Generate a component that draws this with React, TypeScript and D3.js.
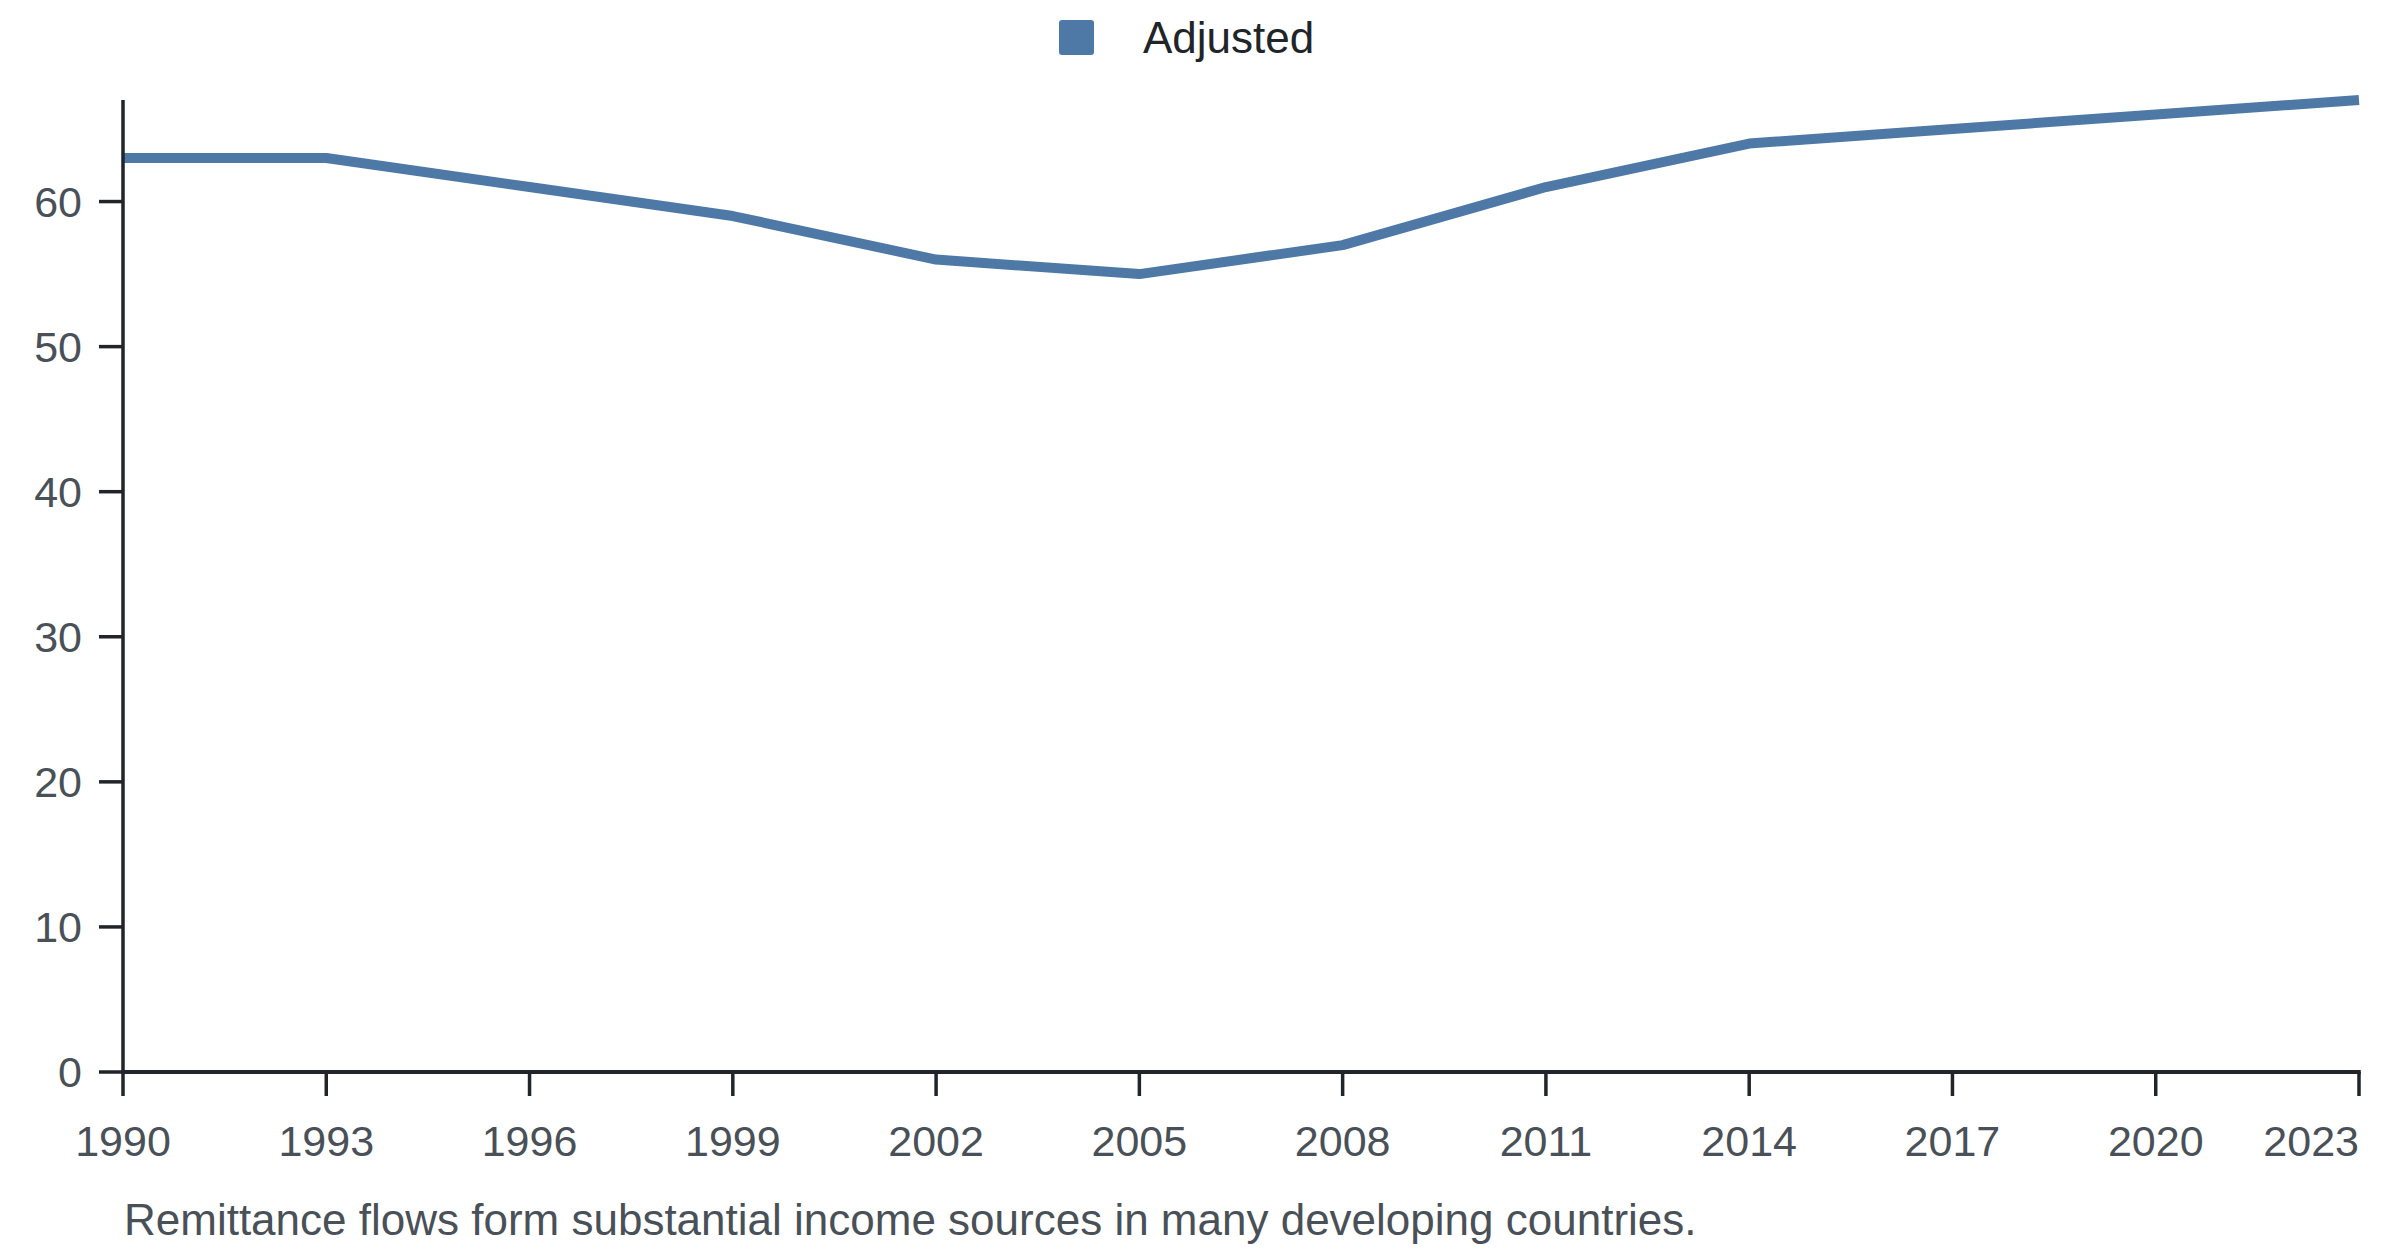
import React from "react";
import * as d3 from "d3";

const years: number[] = [1990, 1993, 1996, 1999, 2002, 2005, 2008, 2011, 2014, 2017, 2020, 2023];
const adjusted: number[] = [63, 63, 61, 59, 56, 55, 57, 61, 64, 65, 66, 67];
const yTicks: number[] = [0, 10, 20, 30, 40, 50, 60];
const xTicks: number[] = [1990, 1993, 1996, 1999, 2002, 2005, 2008, 2011, 2014, 2017, 2020, 2023];
const seriesName = "Adjusted";
const caption = "Remittance flows form substantial income sources in many developing countries.";

const W = 2400;
const H = 1256;
const FONT = "'Liberation Sans', Arial, Helvetica, sans-serif";
const AXIS = "#212529";
const TICKTXT = "#495057";
const LINE = "#4e79a7";

export default function App() {
  const margin = { left: 123, right: 2359, top: 100, bottom: 1072 };
  const x = d3.scaleLinear().domain([1990, 2023]).range([margin.left, margin.right]);
  const y = d3.scaleLinear().domain([0, d3.max(adjusted) as number]).range([margin.bottom, margin.top]);
  const line = d3
    .line<number>()
    .x((_, i) => x(years[i]))
    .y((d) => y(d));
  const path = line(adjusted) || "";

  return (
    <svg
      width={W}
      height={H}
      style={{ position: "absolute", left: 0, top: 0, background: "#fff" }}
      fontFamily={FONT}
    >
      {/* legend */}
      <rect x={1059} y={20} width={35} height={35} rx={3} fill={LINE} />
      <text x={1143} y={53} fontSize={44} fill={AXIS}>
        {seriesName}
      </text>

      {/* line */}
      <path d={path} fill="none" stroke={LINE} strokeWidth={10} strokeLinejoin="round" />

      {/* y axis */}
      <line x1={margin.left} x2={margin.left} y1={margin.top} y2={margin.bottom} stroke={AXIS} strokeWidth={3.5} />
      {yTicks.map((t) => (
        <g key={"y" + t}>
          <line x1={margin.left - 24} x2={margin.left} y1={y(t)} y2={y(t)} stroke={AXIS} strokeWidth={3.5} />
          <text x={margin.left - 41} y={y(t)} dy="0.35em" textAnchor="end" fontSize={43} fill={TICKTXT}>
            {t}
          </text>
        </g>
      ))}

      {/* x axis */}
      <line x1={margin.left - 1.75} x2={margin.right + 1.75} y1={margin.bottom} y2={margin.bottom} stroke={AXIS} strokeWidth={4} />
      {xTicks.map((t, i) => (
        <g key={"x" + t}>
          <line x1={x(t)} x2={x(t)} y1={margin.bottom} y2={margin.bottom + 24} stroke={AXIS} strokeWidth={3.5} />
          <text
            x={x(t)}
            y={1156}
            textAnchor={i === xTicks.length - 1 ? "end" : "middle"}
            fontSize={43}
            fill={TICKTXT}
          >
            {t}
          </text>
        </g>
      ))}

      {/* caption */}
      <text x={124} y={1235} fontSize={44} fill={TICKTXT}>
        {caption}
      </text>
    </svg>
  );
}
